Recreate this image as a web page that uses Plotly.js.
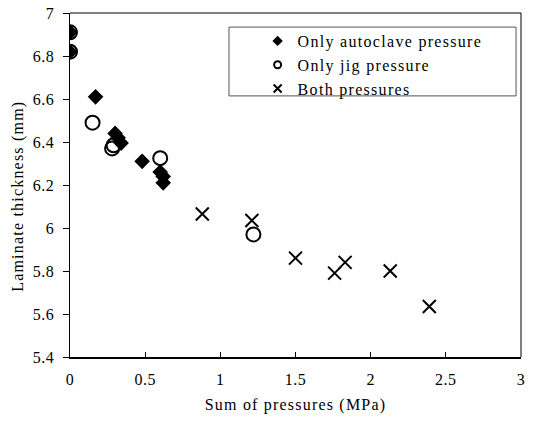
<!DOCTYPE html>
<html>
<head>
<meta charset="utf-8">
<script src="https://cdn.plot.ly/plotly-3.0.1.min.js"></script>
<style>
html,body{margin:0;padding:0;background:#fff;}
#chart{width:534px;height:423px;}
#chart .legendtext{letter-spacing:1.3px;}
#chart .legend .scrollbox{clip-path:none !important;}
#chart .xtitle,#chart .annotation-text{letter-spacing:1.2px;}
#chart .xtick text,#chart .ytick text{letter-spacing:0.5px;}
</style>
</head>
<body>
<div id="chart"></div>
<script>
// Only autoclave pressure
const autoX = [0, 0, 0.17, 0.30, 0.32, 0.34, 0.48, 0.60, 0.62, 0.62];
const autoY = [6.91, 6.82, 6.61, 6.44, 6.42, 6.395, 6.31, 6.26, 6.24, 6.21];
// Only jig pressure
const jigX = [0, 0, 0.15, 0.29, 0.28, 0.60, 1.22];
const jigY = [6.91, 6.82, 6.49, 6.385, 6.37, 6.325, 5.97];
// Both pressures
const bothX = [0.88, 1.21, 1.50, 1.76, 1.83, 2.13, 2.39];
const bothY = [6.065, 6.035, 5.86, 5.79, 5.84, 5.80, 5.635];

const names = ['Only autoclave pressure', 'Only jig pressure', 'Both pressures'];
const xTicks = [0, 0.5, 1, 1.5, 2, 2.5, 3];
const yTicks = [5.4, 5.6, 5.8, 6, 6.2, 6.4, 6.6, 6.8, 7];
const xTitle = 'Sum of pressures (MPa)';
const yTitle = 'Laminate thickness (mm)';

const font = 'Liberation Serif, Times New Roman, serif';

const traces = [
  {x: autoX, y: autoY, mode: 'markers', type: 'scatter', showlegend: false,
   marker: {symbol: 'diamond', size: 12, color: '#000', line: {width: 0}}},
  {x: jigX, y: jigY, mode: 'markers', type: 'scatter', showlegend: false,
   marker: {symbol: 'circle', size: 14, color: 'rgba(255,255,255,0)', line: {width: 2, color: '#000'}}},
  {x: bothX, y: bothY, mode: 'markers', type: 'scatter', showlegend: false,
   marker: {symbol: 'x-thin-open', size: 13, color: '#000', line: {width: 2, color: '#000'}}},
  // legend entries
  {x: [null], y: [null], mode: 'markers', type: 'scatter', name: names[0],
   marker: {symbol: 'diamond', size: 8, color: '#000'}},
  {x: [null], y: [null], mode: 'markers', type: 'scatter', name: names[1],
   marker: {symbol: 'circle', size: 7, color: '#fff', line: {width: 2, color: '#000'}}},
  {x: [null], y: [null], mode: 'markers', type: 'scatter', name: names[2],
   marker: {symbol: 'x-thin-open', size: 8, color: '#000', line: {width: 2, color: '#000'}}}
];

const layout = {
  width: 534, height: 423,
  margin: {l: 70, r: 13, t: 13, b: 66},
  paper_bgcolor: '#fff', plot_bgcolor: '#fff',
  font: {family: font, size: 16, color: '#000'},
  showlegend: true,
  legend: {x: 0.416, y: 0.968, xanchor: 'left', yanchor: 'top',
           bgcolor: 'rgba(0,0,0,0)', borderwidth: 0,
           font: {family: font, size: 16, color: '#000'}, tracegroupgap: 0,
           itemwidth: 30},
  xaxis: {range: [0, 3], tickvals: xTicks, ticks: 'inside', ticklen: 5, tickcolor: '#000',
          showgrid: false, zeroline: false, showline: true, linecolor: '#000', linewidth: 2,
          ticklabelstandoff: 7,
          tickfont: {family: font, size: 16, color: '#000'},
          title: {text: xTitle, font: {family: font, size: 16, color: '#000'}, standoff: 12}},
  yaxis: {range: [5.4, 7], tickvals: yTicks, ticks: 'outside', ticklen: 6, tickcolor: '#000',
          showgrid: false, zeroline: false, showline: true, linecolor: '#000', linewidth: 1.5,
          ticklabelstandoff: 5,
          tickfont: {family: font, size: 16, color: '#000'}},
  annotations: [
    {text: yTitle, xref: 'paper', yref: 'paper', x: -0.1153, y: 0.468,
     xanchor: 'center', yanchor: 'middle', textangle: -90, showarrow: false,
     font: {family: font, size: 16, color: '#000'}}
  ],
  shapes: [
    {type: 'line', xref: 'paper', yref: 'paper', x0: 0, x1: 1, y0: 1, y1: 1, line: {color: '#000', width: 1}},
    {type: 'line', xref: 'paper', yref: 'paper', x0: 1, x1: 1, y0: 0, y1: 1, line: {color: '#000', width: 1}},
    {type: 'rect', xref: 'paper', yref: 'paper', x0: 0.3525, x1: 0.989, y0: 0.759, y1: 0.959,
     line: {color: '#555', width: 1}, fillcolor: 'rgba(0,0,0,0)'}
  ]
};

Plotly.newPlot('chart', traces, layout, {displayModeBar: false, staticPlot: true});
</script>
</body>
</html>
